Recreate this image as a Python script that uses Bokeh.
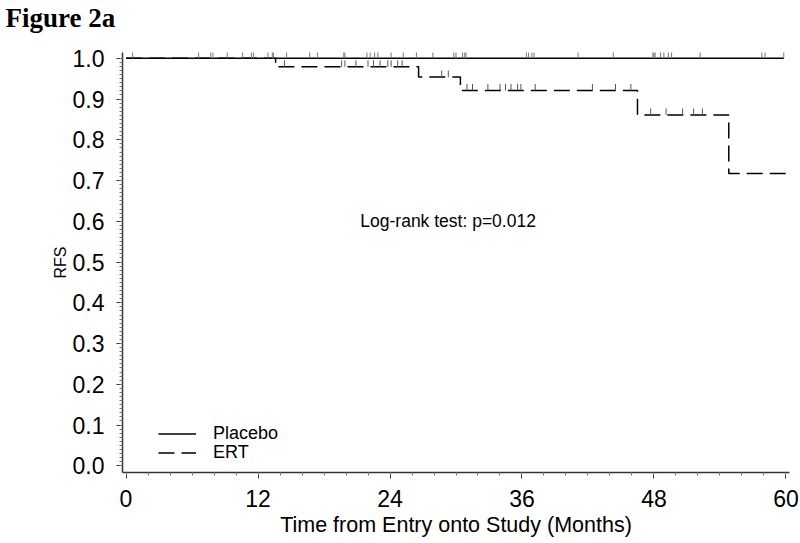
import numpy as np
from bokeh.plotting import figure
from bokeh.models import FixedTicker, PrintfTickFormatter, Label, Legend, LegendItem, Range1d, Title
from bokeh.embed import file_html
from bokeh.resources import INLINE

# ---- data ----
x_ticks = [0, 12, 24, 36, 48, 60]
x_minor = [v for v in range(0, 61, 2)]
y_ticks = [0.0, 0.1, 0.2, 0.3, 0.4, 0.5, 0.6, 0.7, 0.8, 0.9, 1.0]
y_minor = [round(i * 0.01, 2) for i in range(0, 101)]

placebo_times = [0.0, 59.8]
placebo_surv = [1.0, 1.0]
placebo_censor = [0.6, 6.6, 7.7, 7.9, 9.2, 10.6, 11.4, 11.6, 12.9, 13.3, 13.4, 14.6,
                  16.7, 17.4, 19.8, 19.9, 21.9, 22.2, 22.6, 22.9, 24.1, 25.2, 26.4, 27.9,
                  29.8, 30.0, 30.6, 30.8, 30.9, 36.4, 36.6, 36.9, 37.1, 41.1, 44.3,
                  47.9, 48.0, 48.1, 48.6, 48.9, 49.3, 49.6, 52.2, 57.8, 58.1, 59.8]

ert_times = [0.0, 13.6, 26.6, 30.4, 46.5, 54.8, 60.0]
ert_surv = [1.0, 0.979, 0.954, 0.921, 0.861, 0.717, 0.717]
ert_censor = [14.4, 19.6, 19.9, 20.9, 22.0, 22.5, 23.1, 23.8, 24.1, 24.7, 25.1,
              28.7, 29.3,
              31.0, 31.5, 32.9, 34.0, 34.5, 35.0, 35.6, 35.9, 37.2, 42.4, 44.5, 45.9,
              47.7, 49.1, 50.6, 51.6, 52.4]

x_label = "Time from Entry onto Study (Months)"
y_label = "RFS"
title_text = "Figure 2a"
test_text = "Log-rank test: p=0.012"
legend_labels = ["Placebo", "ERT"]


def surv_at(times, surv, t):
    idx = np.searchsorted(np.array(times), np.array(t), side="right") - 1
    return np.array(surv)[idx]


p = figure(width=800, height=543, output_backend="svg", toolbar_location=None,
           x_range=Range1d(-0.32, 60.32), y_range=Range1d(-0.0165, 1.0142),
           min_border_left=122, min_border_right=11, min_border_top=52, min_border_bottom=71)
p.outline_line_color = None
p.grid.visible = False
p.background_fill_color = "white"

font = "Liberation Sans"
axis_color = "#333333"

# axes
p.xaxis.ticker = FixedTicker(ticks=x_ticks, minor_ticks=x_minor)
p.yaxis.ticker = FixedTicker(ticks=y_ticks, minor_ticks=y_minor)
p.yaxis.formatter = PrintfTickFormatter(format="%.1f")
for ax in (p.xaxis[0], p.yaxis[0]):
    ax.axis_line_color = axis_color
    ax.axis_line_width = 1.5
    ax.major_tick_line_color = axis_color
    ax.minor_tick_line_color = "#777777"
    ax.major_tick_in = 0
    ax.major_tick_out = 6
    ax.minor_tick_in = 0
    ax.minor_tick_out = 3
    ax.major_label_text_font = font
    ax.major_label_text_font_size = "23px"
    ax.major_label_text_color = "black"
    ax.axis_label_text_font = font
    ax.axis_label_text_font_style = "normal"
    ax.axis_label_text_color = "black"
p.xaxis.axis_label = x_label
p.xaxis.axis_label_text_font_size = "21.5px"
p.xaxis.major_label_standoff = 11
p.xaxis.axis_label_standoff = 3
p.yaxis.axis_label = y_label
p.yaxis.axis_label_text_font_size = "16px"
p.yaxis.major_label_standoff = 12
p.yaxis.axis_label_standoff = 1

# curves
r_pl = p.step(placebo_times, placebo_surv, mode="after", line_color="black", line_width=1.5)
r_ert = p.step(ert_times, ert_surv, mode="after", line_color="black", line_width=1.5,
               line_dash="16 7")

# censor marks
h = 0.016
pc_y = surv_at(placebo_times, placebo_surv, placebo_censor)
p.segment(x0=placebo_censor, y0=pc_y, x1=placebo_censor, y1=pc_y + h,
          line_color="#777777", line_width=1)
ec_y = surv_at(ert_times, ert_surv, ert_censor)
p.segment(x0=ert_censor, y0=ec_y, x1=ert_censor, y1=ec_y + h,
          line_color="#555555", line_width=1)

# annotation
p.add_layout(Label(x=21.3, y=0.600, text=test_text, text_baseline="middle",
                   text_font=font, text_font_size="17.5px", text_color="black"))

# legend (one per row for exact spacing)
for lab, rend, ypos in ((legend_labels[0], r_pl, 28), (legend_labels[1], r_ert, 9)):
    lg = Legend(items=[LegendItem(label=lab, renderers=[rend])],
                location=(36, ypos), glyph_width=38, glyph_height=17, label_height=17,
                label_standoff=17, spacing=0, padding=0, margin=0,
                border_line_alpha=0, background_fill_alpha=0,
                label_text_font=font, label_text_font_size="18px",
                label_text_color="black")
    p.add_layout(lg, "center")

# spacer between frame and title (pushes the title upward)
p.add_layout(Title(text=" ", text_font_size="1px", standoff=17), "above")

# title
p.title.text = title_text
p.title.align = "left"
p.title.offset = -117
p.title.standoff = 0
p.title.text_font = "Liberation Serif"
p.title.text_font_style = "bold"
p.title.text_font_size = "27px"
p.title.text_color = "black"

open("out.html", "w").write(file_html(p, INLINE))
